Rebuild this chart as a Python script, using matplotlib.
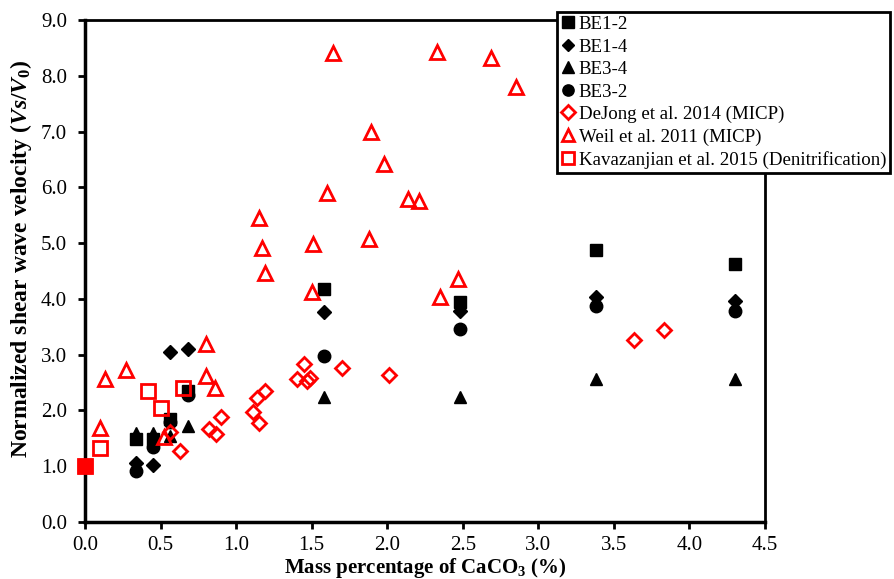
import matplotlib
matplotlib.use("Agg")
import matplotlib.pyplot as plt
import numpy as np

plt.rcParams['font.family'] = ['Liberation Serif', 'DejaVu Serif']
plt.rcParams['mathtext.fontset'] = 'custom'
plt.rcParams['mathtext.rm'] = 'Liberation Serif:bold'
plt.rcParams['mathtext.bf'] = 'Liberation Serif:bold'
plt.rcParams['mathtext.it'] = 'Liberation Serif:italic:bold'

# ---- data ----
be_x = [0.34, 0.45, 0.56, 0.68, 1.58, 2.48, 3.38, 4.30]
be12_y = [1.48, 1.48, 1.85, 2.35, 4.17, 3.95, 4.88, 4.62]
be14_y = [1.05, 1.03, 3.05, 3.11, 3.77, 3.78, 4.04, 3.97]
be34_y = [1.60, 1.60, 1.55, 1.73, 2.25, 2.24, 2.56, 2.56]
be32_y = [0.91, 1.35, 1.79, 2.27, 2.97, 3.46, 3.87, 3.79]

dejong_x = [0.56, 0.63, 0.82, 0.87, 0.90, 1.11, 1.14, 1.19, 1.15, 1.40, 1.45, 1.47, 1.49, 1.70, 2.01, 3.63, 3.83]
dejong_y = [1.61, 1.28, 1.66, 1.58, 1.88, 1.97, 2.23, 2.34, 1.77, 2.56, 2.83, 2.52, 2.58, 2.76, 2.64, 3.27, 3.45]

weil_x = [0.10, 0.13, 0.27, 0.52, 0.80, 0.80, 0.86, 1.15, 1.17, 1.19, 1.50, 1.51, 1.60, 1.64,
          1.88, 1.89, 1.98, 2.14, 2.21, 2.33, 2.35, 2.47, 2.69, 2.85]
weil_y = [1.69, 2.57, 2.73, 1.52, 3.20, 2.62, 2.40, 5.45, 4.92, 4.47, 4.13, 4.98, 5.89, 8.41,
          5.07, 6.99, 6.42, 5.79, 5.76, 8.42, 4.03, 4.36, 8.32, 7.79]

kav_x = [0.00, 0.10, 0.42, 0.50, 0.65]
kav_y = [1.00, 1.33, 2.34, 2.04, 2.40]

x_ticks = [0.0, 0.5, 1.0, 1.5, 2.0, 2.5, 3.0, 3.5, 4.0, 4.5]
y_ticks = [0.0, 1.0, 2.0, 3.0, 4.0, 5.0, 6.0, 7.0, 8.0, 9.0]

fig = plt.figure(figsize=(8.95, 5.79), dpi=100)
ax = fig.add_axes([85/895, 57/579, 680/895, 502/579])

ax.plot(be_x, be12_y, 's', color='black', ms=9, ls='none', label='BE1-2', zorder=3, clip_on=False)
ax.plot(be_x, be14_y, 'D', color='black', ms=7, ls='none', label='BE1-4', zorder=3, clip_on=False)
ax.plot(be_x, be34_y, '^', color='black', ms=9, ls='none', label='BE3-4', zorder=3, clip_on=False)
ax.plot(be_x, be32_y, 'o', color='black', ms=9, ls='none', label='BE3-2', zorder=3, clip_on=False)
ax.plot(dejong_x, dejong_y, 'D', mfc='none', mec='red', mew=2, ms=7.5, ls='none',
        label='DeJong et al. 2014 (MICP)', zorder=4, clip_on=False)
ax.plot(weil_x, weil_y, '^', mfc='none', mec='red', mew=2, ms=9.5, ls='none',
        label='Weil et al. 2011 (MICP)', zorder=4, clip_on=False)
ax.plot(kav_x, kav_y, 's', mfc='none', mec='red', mew=2, ms=10, ls='none',
        label='Kavazanjian et al. 2015 (Denitrification)', zorder=4, clip_on=False)
origin_x = [xv for xv in kav_x if xv == 0]
origin_y = [yv for xv, yv in zip(kav_x, kav_y) if xv == 0]
ax.scatter(origin_x, origin_y, marker='s', s=110, c='red', zorder=5, clip_on=False)

ax.set_xlim(0, 4.5)
ax.set_ylim(0, 9)
ax.set_xticks(x_ticks)
ax.set_yticks(y_ticks)
ax.set_xticklabels([f"{v:.1f}" for v in x_ticks])
ax.set_yticklabels([f"{v:.1f}" for v in y_ticks])
ax.tick_params(direction='out', length=5, width=2, labelsize=15)
ax.tick_params(axis='y', pad=8)
ax.tick_params(axis='x', pad=5)
for s in ['left', 'bottom']:
    ax.spines[s].set_linewidth(2.5)
for s in ['top', 'right']:
    ax.spines[s].set_linewidth(2)

ax.set_xlabel(r"Mass percentage of CaCO$_3$ (%)", fontsize=15, fontweight='bold')
ax.xaxis.set_label_coords(0.5, -(568 - 522) / 502, transform=ax.transAxes)
ax.xaxis.label.set_va('center')
ax.set_ylabel(r"Normalized shear wave velocity ($\mathit{Vs/V_0}$)", fontsize=17,
              fontweight='bold')
ax.yaxis.set_label_coords(-(85 - 21) / 680, 0.5 + 12 / 502, transform=ax.transAxes)
ax.yaxis.label.set_va('center')

leg = fig.legend(loc='upper left', bbox_to_anchor=(557/895, 1 - 12/579), fontsize=13.6,
                 frameon=True, fancybox=False, edgecolor='black', framealpha=1,
                 handlelength=0.8, handletextpad=0.15, labelspacing=0.28,
                 borderpad=0.2, borderaxespad=0, numpoints=1, markerscale=0.9)
leg.get_frame().set_linewidth(2)

fig.savefig('out.png', dpi=100)
